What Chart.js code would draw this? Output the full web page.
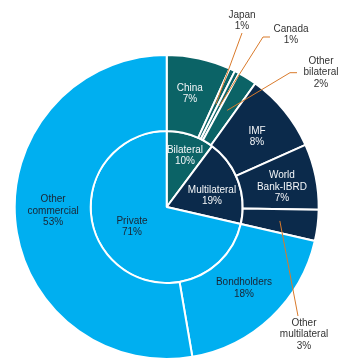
<!DOCTYPE html>
<html><head><meta charset="utf-8">
<script src="https://cdn.jsdelivr.net/npm/chart.js@4.4.1/dist/chart.umd.min.js"></script>
<style>html,body{margin:0;padding:0;background:#fff}#wrap{width:340px;height:359px;position:relative}</style>
</head><body><div id="wrap"><canvas id="c" width="340" height="359"></canvas></div>
<script>
// ---- data ----
const outerCategories = ['China', 'Japan', 'Canada', 'Other bilateral', 'IMF', 'World Bank-IBRD', 'Other multilateral', 'Bondholders', 'Other commercial'];
const outerValues = [6.8, 0.6, 0.5, 2.0, 8.4, 7.0, 3.3, 18.7, 52.7];
const outerPercentLabels = ['7%', '1%', '1%', '2%', '8%', '7%', '3%', '18%', '53%'];
const innerCategories = ['Bilateral', 'Multilateral', 'Private'];
const innerValues = [10.2, 18.4, 71.4];
const innerPercentLabels = ['10%', '19%', '71%'];
// how the category names wrap onto lines
const outerNameLines = [['China'], ['Japan'], ['Canada'], ['Other', 'bilateral'], ['IMF'], ['World', 'Bank-IBRD'], ['Other', 'multilateral'], ['Bondholders'], ['Other', 'commercial']];
const innerNameLines = [['Bilateral'], ['Multilateral'], ['Private']];

// ---- styles ----
const TEAL = '#0b6366', NAVY = '#0b2a4b', BLUE = '#00aff0';
const outerColors = [TEAL, TEAL, TEAL, TEAL, NAVY, NAVY, NAVY, BLUE, BLUE];
const innerColors = [TEAL, NAVY, BLUE];
const WHITE = '#f4f6f8', DARK = '#1a2433', GREY = '#333333', LEADER = '#d97a2b';

// label placement: inside labels are offset from the arc centre,
// outside labels are placed relative to the chart centre with a leader line from the arc centre
const outerLabelLayout = [
  {type: 'in', dx: -1, dy: -2, color: WHITE},
  {type: 'out', tx: 75.3, ty: -186.5, path: [[75.3, -174]], color: GREY},
  {type: 'out', tx: 124.3, ty: -172.5, path: [[96.3, -170], [103.3, -170]], color: GREY},
  {type: 'out', tx: 154.3, ty: -134.5, path: [[123.3, -134.3], [130.3, -134.3]], color: GREY},
  {type: 'in', dx: 2, dy: 2, color: WHITE},
  {type: 'in', dx: 3.5, dy: 3, color: WHITE},
  {type: 'out', tx: 137.3, ty: 127.5, path: [[131.3, 109]], color: GREY},
  {type: 'in', dx: -1, dy: -1.5, color: DARK},
  {type: 'in', dx: 0, dy: -5.5, color: DARK}
];
const innerLabelLayout = [
  {type: 'in', dx: 6.3, dy: -15.4, color: WHITE},
  {type: 'in', dx: 9.6, dy: 2, color: WHITE},
  {type: 'in', dx: -5, dy: -4, color: DARK}
];
const FONT = '10px "Liberation Sans", Arial, sans-serif';
const LINE_H = 11.5;

const labelPlugin = {
  id: 'labels',
  afterDatasetsDraw(chart) {
    const ctx = chart.ctx;
    ctx.save();
    ctx.font = FONT;
    ctx.textAlign = 'center';
    ctx.textBaseline = 'middle';
    const sets = [
      {meta: chart.getDatasetMeta(0), names: outerNameLines, pcts: outerPercentLabels, layout: outerLabelLayout},
      {meta: chart.getDatasetMeta(1), names: innerNameLines, pcts: innerPercentLabels, layout: innerLabelLayout}
    ];
    sets.forEach(s => {
      s.meta.data.forEach((arc, i) => {
        const L = s.layout[i];
        const p = arc.getCenterPoint(true);
        const cx = arc.x, cy = arc.y;
        const lines = s.names[i].concat([s.pcts[i]]);
        let x, y;
        if (L.type === 'in') {
          x = p.x + L.dx; y = p.y + L.dy;
        } else {
          ctx.beginPath();
          ctx.strokeStyle = LEADER;
          ctx.lineWidth = 1;
          ctx.moveTo(p.x, p.y);
          L.path.forEach(pt => ctx.lineTo(cx + pt[0], cy + pt[1]));
          ctx.stroke();
          x = cx + L.tx; y = cy + L.ty;
        }
        ctx.fillStyle = L.color;
        const y0 = y - (lines.length - 1) * LINE_H / 2;
        lines.forEach((t, k) => ctx.fillText(t, x, y0 + k * LINE_H));
      });
    });
    ctx.restore();
  }
};

new Chart(document.getElementById('c'), {
  type: 'pie',
  data: {
    labels: outerCategories,
    datasets: [
      {data: outerValues, backgroundColor: outerColors, borderColor: '#ffffff', borderWidth: 2},
      {data: innerValues, labels: innerCategories, backgroundColor: innerColors, borderColor: '#ffffff', borderWidth: 2}
    ]
  },
  options: {
    responsive: false,
    animation: false,
    devicePixelRatio: 1,
    radius: 152,
    layout: {padding: {top: 55, bottom: 0, left: 15, right: 21.6}},
    plugins: {legend: {display: false}, tooltip: {enabled: false}}
  },
  plugins: [labelPlugin]
});
</script>
</body></html>
